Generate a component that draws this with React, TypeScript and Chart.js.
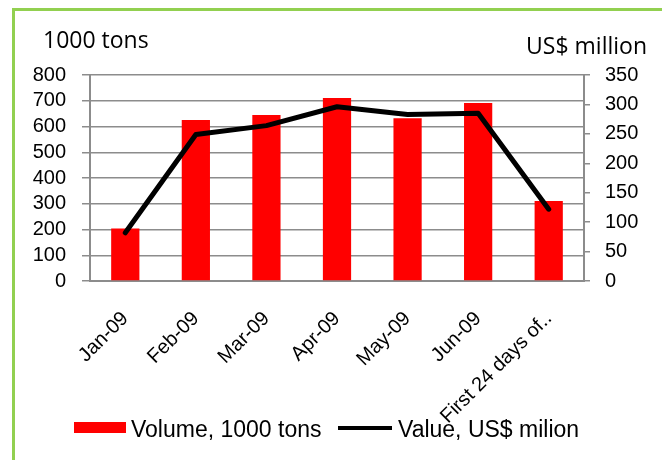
import React, { useEffect, useRef } from "react";
import { Chart, registerables } from "chart.js";

Chart.register(...registerables);

const categories = ["Jan-09", "Feb-09", "Mar-09", "Apr-09", "May-09", "Jun-09", "First 24 days of.."];
const volumeLabel = "Volume, 1000 tons";
const valueLabel = "Value, US$ milion";
const volume = [204, 625, 645, 711, 632, 691, 311];
const value = [82, 249, 264, 296, 283, 285, 122];
const leftTitle = "1000 tons";
const rightTitle = "US$ million";

const GRID = "#8c8c8c";
const TICK_FONT = { family: "'Liberation Sans', Arial, sans-serif", size: 20 };

const overlay = {
  id: "overlay",
  beforeDraw(chart: any) {
    const ctx = chart.ctx;
    ctx.save();
    ctx.fillStyle = "#ffffff";
    ctx.fillRect(0, 0, chart.width, chart.height);
    ctx.strokeStyle = "#92D050";
    ctx.lineWidth = 3;
    ctx.strokeRect(13.5, 9.5, 700, 500);
    ctx.restore();
  },
  afterDraw(chart: any) {
    const ctx = chart.ctx;
    ctx.save();
    ctx.fillStyle = "#000";
    ctx.textBaseline = "alphabetic";
    ctx.font = "23px 'Open Sans', sans-serif";
    ctx.textAlign = "left";
    ctx.fillText(leftTitle, 43, 48);
    ctx.textAlign = "right";
    ctx.fillText(rightTitle, 647, 54);

    const ds = chart.data.datasets;
    ctx.font = "23px 'Liberation Sans', Arial, sans-serif";
    ctx.textAlign = "left";
    ctx.fillStyle = "#FF0000";
    ctx.fillRect(74, 422, 52, 11);
    ctx.fillStyle = "#000";
    ctx.fillText(ds[0].label, 131, 437);
    ctx.strokeStyle = "#000";
    ctx.lineWidth = 4;
    ctx.beginPath();
    ctx.moveTo(338, 428);
    ctx.lineTo(392, 428);
    ctx.stroke();
    ctx.fillText(ds[1].label, 398, 437);
    ctx.restore();
  },
};

export default function App() {
  const ref = useRef<HTMLCanvasElement>(null);
  useEffect(() => {
    if (!ref.current) return;
    const chart = new Chart(ref.current, {
      type: "bar",
      data: {
        labels: categories,
        datasets: [
          {
            type: "bar",
            label: volumeLabel,
            data: volume,
            backgroundColor: "#FF0000",
            borderWidth: 0,
            barPercentage: 0.4,
            categoryPercentage: 1,
            yAxisID: "y",
            order: 1,
          },
          {
            type: "line",
            label: valueLabel,
            data: value,
            borderColor: "#000000",
            borderWidth: 5,
            pointRadius: 0,
            tension: 0,
            borderCapStyle: "round",
            borderJoinStyle: "round",
            yAxisID: "y1",
            order: 0,
          } as any,
        ],
      },
      options: {
        responsive: false,
        animation: false,
        devicePixelRatio: 1,
        layout: { padding: { left: 0, right: 0, top: 75, bottom: 0 } },
        plugins: { legend: { display: false }, tooltip: { enabled: false } },
        scales: {
          x: {
            grid: { drawOnChartArea: false, drawTicks: false },
            border: { display: true, color: GRID, width: 2 },
            ticks: {
              color: "#000",
              font: TICK_FONT,
              maxRotation: 45,
              minRotation: 45,
              autoSkip: false,
              padding: 26,
            },
            afterFit(scale: any) {
              scale.height = 179;
            },
          },
          y: {
            position: "left",
            min: 0,
            max: 800,
            grid: { color: GRID, lineWidth: 1.5, tickLength: 8 },
            border: { display: true, color: GRID, width: 2 },
            ticks: { stepSize: 100, autoSkip: false, color: "#000", font: TICK_FONT, padding: 16 },
            afterFit(scale: any) {
              scale.width = 90;
            },
          },
          y1: {
            position: "right",
            min: 0,
            max: 350,
            grid: { drawOnChartArea: false, color: GRID, lineWidth: 1.5, tickLength: 6 },
            border: { display: true, color: GRID, width: 2 },
            ticks: { stepSize: 50, autoSkip: false, color: "#000", font: TICK_FONT, padding: 15 },
            afterFit(scale: any) {
              scale.width = 78;
            },
          },
        },
      },
      plugins: [overlay],
    });
    return () => chart.destroy();
  }, []);
  return (
    <div style={{ position: "absolute", left: 0, top: 0, width: 662, height: 460 }}>
      <canvas ref={ref} width={662} height={460} style={{ display: "block" }} />
    </div>
  );
}
